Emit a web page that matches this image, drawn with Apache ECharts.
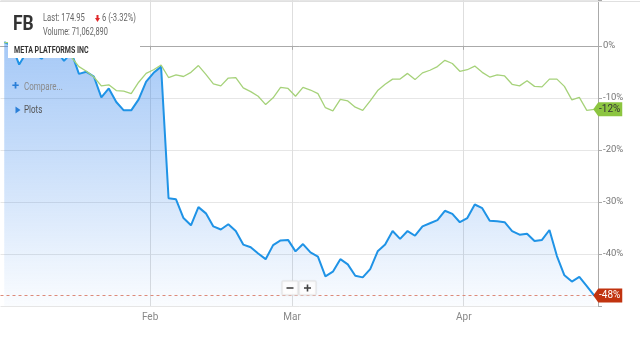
<!DOCTYPE html>
<html><head><meta charset="utf-8">
<script src="https://cdn.jsdelivr.net/npm/echarts@6.0.0/dist/echarts.min.js"></script>
<style>html,body{margin:0;padding:0;background:#fff;overflow:hidden}#c{width:640px;height:338px}</style>
</head><body><div id="c"></div>
<script>
// Trading days, Jan 3 – Apr 27 2022
const categories = [
 'Jan 3','Jan 4','Jan 5','Jan 6','Jan 7','Jan 10','Jan 11','Jan 12','Jan 13','Jan 14','Jan 18','Jan 19','Jan 20','Jan 21','Jan 24','Jan 25','Jan 26','Jan 27','Jan 28','Jan 31',
 'Feb 1','Feb 2','Feb 3','Feb 4','Feb 7','Feb 8','Feb 9','Feb 10','Feb 11','Feb 14','Feb 15','Feb 16','Feb 17','Feb 18','Feb 22','Feb 23','Feb 24','Feb 25','Feb 28',
 'Mar 1','Mar 2','Mar 3','Mar 4','Mar 7','Mar 8','Mar 9','Mar 10','Mar 11','Mar 14','Mar 15','Mar 16','Mar 17','Mar 18','Mar 21','Mar 22','Mar 23','Mar 24','Mar 25','Mar 28','Mar 29','Mar 30','Mar 31',
 'Apr 1','Apr 4','Apr 5','Apr 6','Apr 7','Apr 8','Apr 11','Apr 12','Apr 13','Apr 14','Apr 18','Apr 19','Apr 20','Apr 21','Apr 22','Apr 25','Apr 26','Apr 27'
];
// FB (% change)
const fbChange = [
 0.7,0.1,-3.6,-1.2,-1.4,-2.5,-0.6,-0.9,-2.9,-1.3,-5.4,-5.0,-5.9,-9.9,-8.2,-10.8,-12.4,-12.4,-10.3,-6.9,
 -5.2,-4.0,-29.3,-29.5,-33.1,-34.5,-31.0,-32.2,-34.7,-35.3,-34.3,-35.6,-38.2,-38.7,-39.9,-41.0,-38.3,-37.4,-37.3,
 -39.5,-38.1,-39.7,-40.5,-44.3,-43.4,-41.0,-42.0,-44.2,-44.5,-42.9,-39.5,-38.2,-35.6,-37.1,-35.6,-36.5,-34.7,-34.1,-33.5,-31.7,-32.3,-33.9,
 -33.1,-30.5,-31.2,-33.6,-33.7,-33.9,-35.6,-36.3,-36.1,-37.5,-37.3,-35.4,-40.4,-44.1,-45.3,-44.4,-46.2,-48.0
];
// Comparison index (% change)
const spxChange = [
 0.6,0.6,-1.4,-1.5,-1.9,-2.0,-1.1,-0.8,-2.2,-2.2,-4.0,-4.9,-6.0,-7.7,-7.5,-8.6,-8.7,-9.2,-7.0,-5.3,
 -4.6,-3.7,-6.1,-5.6,-5.9,-5.1,-3.8,-5.5,-7.3,-7.7,-6.2,-6.1,-8.1,-8.8,-9.7,-11.3,-10.0,-8.0,-8.2,
 -9.7,-8.0,-8.5,-9.2,-11.9,-12.5,-10.3,-10.6,-11.8,-12.4,-10.6,-8.6,-7.4,-6.4,-6.4,-5.3,-6.5,-5.2,-4.7,-4.0,-2.8,-3.4,-4.9,
 -4.6,-3.9,-5.1,-6.0,-5.6,-5.8,-7.4,-7.7,-6.7,-7.8,-7.9,-6.4,-6.4,-7.8,-10.4,-9.9,-12.4,-12.2
];
const yTickLabels = [0,-10,-20,-30,-40];

const FONT = 'Roboto, sans-serif';
const monthOf = i => categories[i].split(' ')[0];
const isMonthStart = i => i > 0 && monthOf(i) !== monthOf(i - 1);

const fbLast = fbChange[fbChange.length - 1];
const spxLast = spxChange[spxChange.length - 1];
const lastIdx = categories.length - 1;
const tagPath = 'path://M0,7 L5,0 L29,0 L29,14 L5,14 Z';

function txt(x, y, text, font, fill, sx) {
  return {type: 'text', x: x, y: y, scaleX: sx, z: 101,
    style: {text: text, font: font, fill: fill, align: 'left', verticalAlign: 'top'}};
}

const chart = echarts.init(document.getElementById('c'), null, {renderer: 'canvas'});
chart.setOption({
  animation: false,
  grid: {left: 0.5, right: 42, top: 0, bottom: 32, containLabel: false},
  xAxis: {
    type: 'category', data: categories, boundaryGap: true,
    axisLine: {lineStyle: {color: '#aaa'}},
    axisTick: {show: true, interval: (i) => isMonthStart(i), length: 4, lineStyle: {color: '#aaa'}},
    splitLine: {show: true, interval: (i) => isMonthStart(i), lineStyle: {color: '#dedede'}},
    axisLabel: {interval: (i) => isMonthStart(i), formatter: v => v.split(' ')[0],
      color: '#888', fontSize: 10, fontFamily: FONT, margin: 6, padding: [0, 7, 0, 0]}
  },
  yAxis: {
    type: 'value', position: 'right', min: -50, max: 8.8, interval: 10,
    axisLine: {show: true, lineStyle: {color: '#aaa'}},
    axisTick: {show: true, length: 4, lineStyle: {color: '#aaa'}},
    splitLine: {show: true, lineStyle: {color: '#e6e6e6'}},
    axisLabel: {formatter: v => yTickLabels.includes(v) ? v + '%' : '', color: '#777', fontSize: 9.5, fontFamily: FONT, margin: 5}
  },
  series: [
    {
      name: 'FB', type: 'line', data: fbChange, showSymbol: false, symbol: 'none',
      lineStyle: {color: '#1f93e6', width: 2},
      areaStyle: {origin: 'start', color: {type: 'linear', x: 0, y: 30, x2: 0, y2: 306, global: true,
        colorStops: [
          {offset: 0, color: 'rgba(40,125,235,0.62)'},
          {offset: 0.4, color: 'rgba(40,125,235,0.40)'},
          {offset: 1, color: 'rgba(40,125,235,0.03)'}]}},
      z: 2,
      markLine: {silent: true, symbol: ['none', 'none'], label: {show: false},
        lineStyle: {color: '#dc8a7a', type: [3, 3], width: 1}, data: [{yAxis: fbLast}]},
      markPoint: {silent: true, symbol: tagPath, symbolSize: [29, 14], symbolOffset: [13.5, 0], symbolKeepAspect: false,
        itemStyle: {color: '#c1330f'},
        label: {show: true, position: 'inside', offset: [2, 0], color: '#fff', fontSize: 10, fontFamily: FONT,
          formatter: Math.round(fbLast) + '%'},
        data: [{coord: [lastIdx, fbLast]}]}
    },
    {
      name: 'Index', type: 'line', data: spxChange, showSymbol: false, symbol: 'none',
      lineStyle: {color: '#a6d27a', width: 1.3}, z: 3,
      markPoint: {silent: true, symbol: tagPath, symbolSize: [29, 14], symbolOffset: [13.5, 0], symbolKeepAspect: false,
        itemStyle: {color: '#8cc540'},
        label: {show: true, position: 'inside', offset: [2, 0], color: '#333', fontSize: 10, fontFamily: FONT,
          formatter: Math.round(spxLast) + '%'},
        data: [{coord: [lastIdx, spxLast]}]}
    }
  ],
  graphic: [
    {type: 'line', shape: {x1: 0, y1: 1.5, x2: 640, y2: 1.5}, style: {stroke: '#e0e0e0', lineWidth: 1}, z: 90},
    {type: 'rect', shape: {x: 8, y: 2, width: 132, height: 56}, style: {fill: '#fff'}, z: 100},
    txt(13, 14, 'FB', 'bold 21px ' + FONT, '#333', 0.83),
    txt(43, 13, 'Last: 174.95', '10px ' + FONT, '#666', 0.76),
    {type: 'polygon', z: 101, shape: {points: [[96.5,15],[98.5,15],[98.5,18],[100,18],[97.5,22],[95,18],[96.5,18]]}, style: {fill: '#e0282a'}},
    txt(102, 13, '6 (-3.32%)', '10px ' + FONT, '#666', 0.76),
    txt(43, 27, 'Volume: 71,062,890', '10px ' + FONT, '#666', 0.74),
    txt(14, 46, 'META PLATFORMS INC', 'bold 9px ' + FONT, '#333', 0.78),
    txt(12, 80, '+', 'bold 13px ' + FONT, '#2a7fd8', 1),
    txt(24, 82, 'Compare...', '10px ' + FONT, '#8a8a8a', 0.8),
    {type: 'polygon', z: 101, shape: {points: [[15.5,106.5],[20.5,110],[15.5,113.5]]}, style: {fill: '#2a7fd8'}},
    txt(24, 105, 'Plots', '10px ' + FONT, '#555', 0.8),
    {type: 'rect', z: 101, shape: {x: 282, y: 281, width: 16, height: 14, r: 1}, style: {fill: 'rgba(255,255,255,0.9)', stroke: '#e4e4e4', shadowBlur: 2, shadowColor: 'rgba(0,0,0,0.08)'}},
    {type: 'rect', z: 101, shape: {x: 299, y: 281, width: 17, height: 14, r: 1}, style: {fill: 'rgba(255,255,255,0.9)', stroke: '#e4e4e4', shadowBlur: 2, shadowColor: 'rgba(0,0,0,0.08)'}},
    {type: 'line', z: 102, shape: {x1: 286.5, y1: 288, x2: 293.5, y2: 288}, style: {stroke: '#444', lineWidth: 1.6}},
    {type: 'line', z: 102, shape: {x1: 304, y1: 288, x2: 311, y2: 288}, style: {stroke: '#444', lineWidth: 1.6}},
    {type: 'line', z: 102, shape: {x1: 307.5, y1: 284.5, x2: 307.5, y2: 291.5}, style: {stroke: '#444', lineWidth: 1.6}}
  ]
});
</script></body></html>
